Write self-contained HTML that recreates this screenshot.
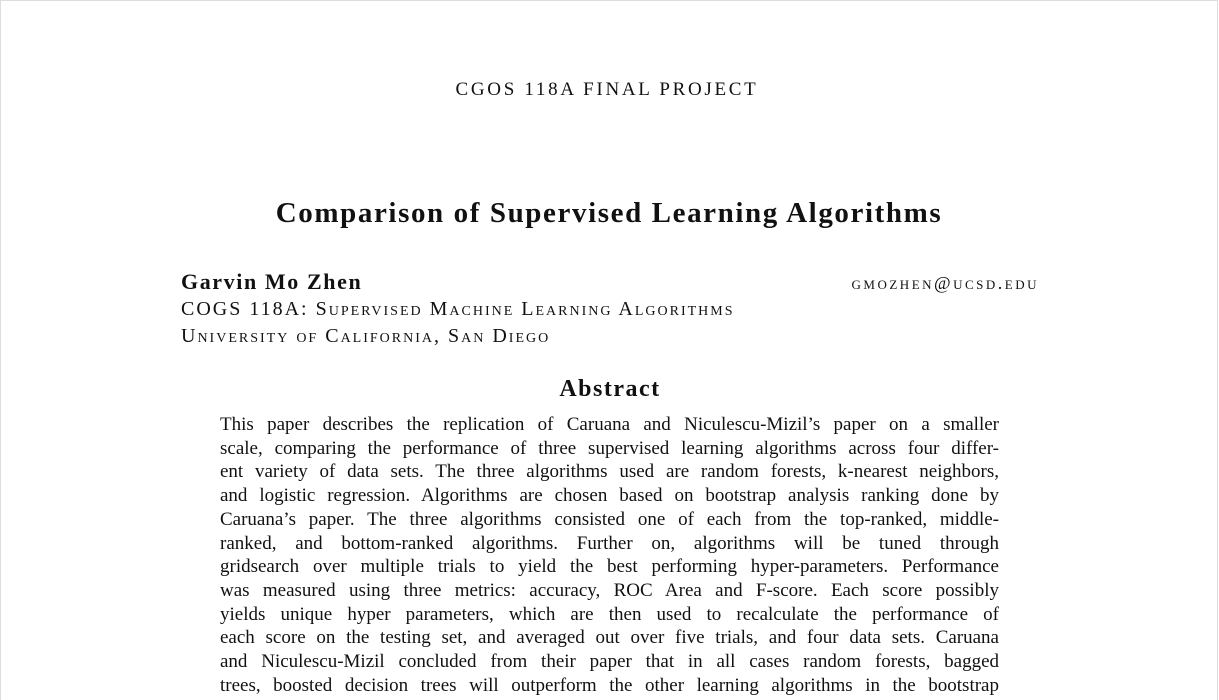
<!DOCTYPE html>
<html><head><meta charset="utf-8"><style>
html,body{margin:0;padding:0;background:#fff;}
#page{position:relative;height:700px;border-left:1px solid #dcdde0;border-right:1px solid #dcdde0;border-top:1px solid #dcdde0;box-sizing:border-box;width:1218px;font-family:"Liberation Serif",serif;color:#111;overflow:hidden;}
.a{position:absolute;white-space:nowrap;}
.sc{font-variant:small-caps;}
.l{position:absolute;left:219px;width:779px;font-size:19px;text-align:justify;text-align-last:justify;white-space:nowrap;line-height:22px;}
</style></head><body>
<div id="page">
<div class="a" style="left:0;width:1212px;text-align:center;top:78px;font-size:19px;letter-spacing:2.7px;">CGOS 118A FINAL PROJECT</div>
<div class="a" style="left:0;width:1216px;text-align:center;top:196px;font-size:29px;letter-spacing:1.6px;font-weight:bold;">Comparison of Supervised Learning Algorithms</div>
<div class="a" style="left:180px;top:268px;font-size:22px;letter-spacing:1.6px;font-weight:bold;">Garvin Mo Zhen</div>
<div class="a sc" style="right:178px;top:272px;font-size:18px;letter-spacing:2.5px;">gmozhen@ucsd.edu</div>
<div class="a sc" style="left:180px;top:297px;font-size:20px;letter-spacing:2.0px;">COGS 118A: Supervised Machine Learning Algorithms</div>
<div class="a sc" style="left:180px;top:324px;font-size:20px;letter-spacing:2.0px;">University of California, San Diego</div>
<div class="a" style="left:0;width:1218px;text-align:center;top:375px;font-size:24px;letter-spacing:1.5px;font-weight:bold;">Abstract</div>
<div>
<div class="l" style="top:413px">This paper describes the replication of Caruana and Niculescu-Mizil’s paper on a smaller</div>
<div class="l" style="top:437px">scale, comparing the performance of three supervised learning algorithms across four differ-</div>
<div class="l" style="top:460px">ent variety of data sets. The three algorithms used are random forests, k-nearest neighbors,</div>
<div class="l" style="top:484px">and logistic regression. Algorithms are chosen based on bootstrap analysis ranking done by</div>
<div class="l" style="top:508px">Caruana’s paper. The three algorithms consisted one of each from the top-ranked, middle-</div>
<div class="l" style="top:532px">ranked, and bottom-ranked algorithms. Further on, algorithms will be tuned through</div>
<div class="l" style="top:555px">gridsearch over multiple trials to yield the best performing hyper-parameters. Performance</div>
<div class="l" style="top:579px">was measured using three metrics: accuracy, ROC Area and F-score. Each score possibly</div>
<div class="l" style="top:603px">yields unique hyper parameters, which are then used to recalculate the performance of</div>
<div class="l" style="top:626px">each score on the testing set, and averaged out over five trials, and four data sets. Caruana</div>
<div class="l" style="top:650px">and Niculescu-Mizil concluded from their paper that in all cases random forests, bagged</div>
<div class="l" style="top:674px">trees, boosted decision trees will outperform the other learning algorithms in the bootstrap</div>
</div>
</div>
</body></html>
